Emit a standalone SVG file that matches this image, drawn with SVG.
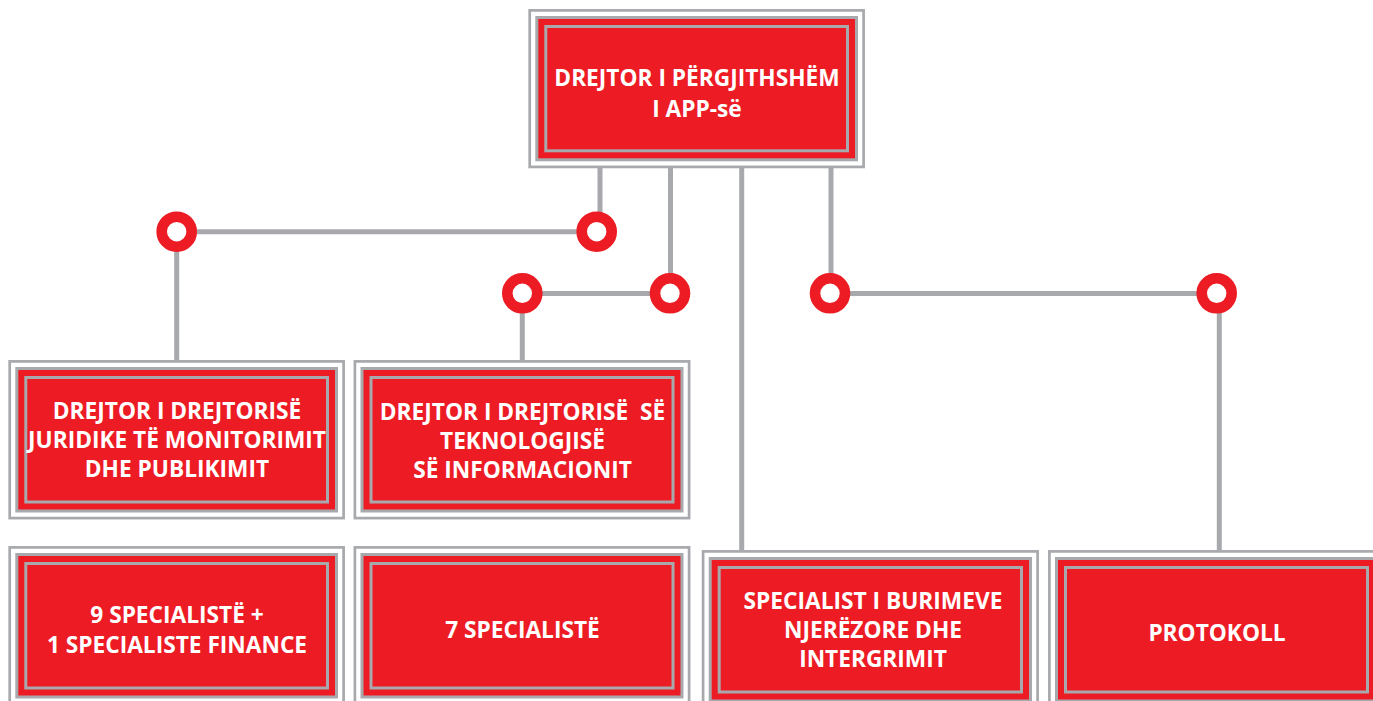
<svg xmlns="http://www.w3.org/2000/svg" width="1373" height="701" viewBox="0 0 1373 701">
<style>
.o{fill:#fff;stroke:#A7A9AC;stroke-width:2.7}
.m{fill:#ED1C24;stroke:#A7A9AC;stroke-width:3}
.i{fill:none;stroke:#A7A9AC;stroke-width:3}
.t{fill:#fff;font-family:"Open Sans","DejaVu Sans",sans-serif;font-weight:700;font-size:22.7px;text-anchor:middle}
.c{fill:none;stroke:#A7A9AC;stroke-width:5}
.r{fill:#fff;stroke:#ED1C24;stroke-width:10.6}
</style>
<rect width="1373" height="701" fill="#fff"/>
<g id="connectors">
<path class="c" d="M600,168V225 M176.7,231.7H596.7 M176.7,231.7V360 M670.5,168V293.5 M522.3,293.5H670 M522.3,293.5V360 M741.7,168V550 M831,168V293.5 M830,293.5H1216.7 M1219.3,293.5V550"/>
<circle class="r" cx="176.7" cy="231.7" r="15"/>
<circle class="r" cx="596.7" cy="231.7" r="15"/>
<circle class="r" cx="522.3" cy="293.3" r="15"/>
<circle class="r" cx="670" cy="293.3" r="15"/>
<circle class="r" cx="830" cy="293.3" r="15"/>
<circle class="r" cx="1216.7" cy="293.3" r="15"/>
</g>
<g id="n-top">
<rect class="o" x="529.7" y="10.4" width="333.9" height="156.5"/>
<rect class="m" x="536.8" y="17.5" width="319.7" height="142.3"/>
<rect class="i" x="545.8" y="26.5" width="301.7" height="124.3"/>
<text class="t" x="697" y="86">DREJTOR I PËRGJITHSHËM</text>
<text class="t" x="697" y="116.5">I APP-së</text>
</g>
<g id="n-juridike">
<rect class="o" x="9.7" y="361.4" width="333.9" height="156.7"/>
<rect class="m" x="16.8" y="368.5" width="319.7" height="142.5"/>
<rect class="i" x="25.8" y="377.5" width="301.7" height="124.5"/>
<text class="t" x="177" y="418.5">DREJTOR I DREJTORISË</text>
<text class="t" x="177" y="447.7">JURIDIKE TË MONITORIMIT</text>
<text class="t" x="177" y="476.7">DHE PUBLIKIMIT</text>
</g>
<g id="n-teknologji">
<rect class="o" x="354.9" y="361.4" width="334.2" height="156.7"/>
<rect class="m" x="362" y="368.5" width="320" height="142.5"/>
<rect class="i" x="371" y="377.5" width="302" height="124.5"/>
<text class="t" x="522.5" y="420" xml:space="preserve">DREJTOR I DREJTORISË  SË</text>
<text class="t" x="522.5" y="448.5">TEKNOLOGJISË</text>
<text class="t" x="522.5" y="477.5">SË INFORMACIONIT</text>
</g>
<g id="n-specialiste9">
<rect class="o" x="9.7" y="547.4" width="333.9" height="156.7"/>
<rect class="m" x="16.8" y="554.5" width="319.7" height="142.5"/>
<rect class="i" x="25.8" y="563.5" width="301.7" height="124.5"/>
<text class="t" x="177" y="623.3">9 SPECIALISTË +</text>
<text class="t" x="177" y="652.7">1 SPECIALISTE FINANCE</text>
</g>
<g id="n-specialiste7">
<rect class="o" x="354.9" y="547.4" width="334.2" height="156.7"/>
<rect class="m" x="362" y="554.5" width="320" height="142.5"/>
<rect class="i" x="371" y="563.5" width="302" height="124.5"/>
<text class="t" x="522.5" y="638">7 SPECIALISTË</text>
</g>
<g id="n-burime">
<rect class="o" x="703.1" y="551.4" width="334.5" height="156.7"/>
<rect class="m" x="710.2" y="558.5" width="320.3" height="142.5"/>
<rect class="i" x="719.2" y="567.5" width="302.3" height="124.5"/>
<text class="t" x="873" y="609">SPECIALIST I BURIMEVE</text>
<text class="t" x="873" y="638">NJERËZORE DHE</text>
<text class="t" x="873" y="667">INTERGRIMIT</text>
</g>
<g id="n-protokoll">
<rect class="o" x="1049.4" y="551.4" width="334.2" height="156.7"/>
<rect class="m" x="1056.5" y="558.5" width="320" height="142.5"/>
<rect class="i" x="1065.5" y="567.5" width="302" height="124.5"/>
<text class="t" x="1217" y="641">PROTOKOLL</text>
</g>
</svg>
